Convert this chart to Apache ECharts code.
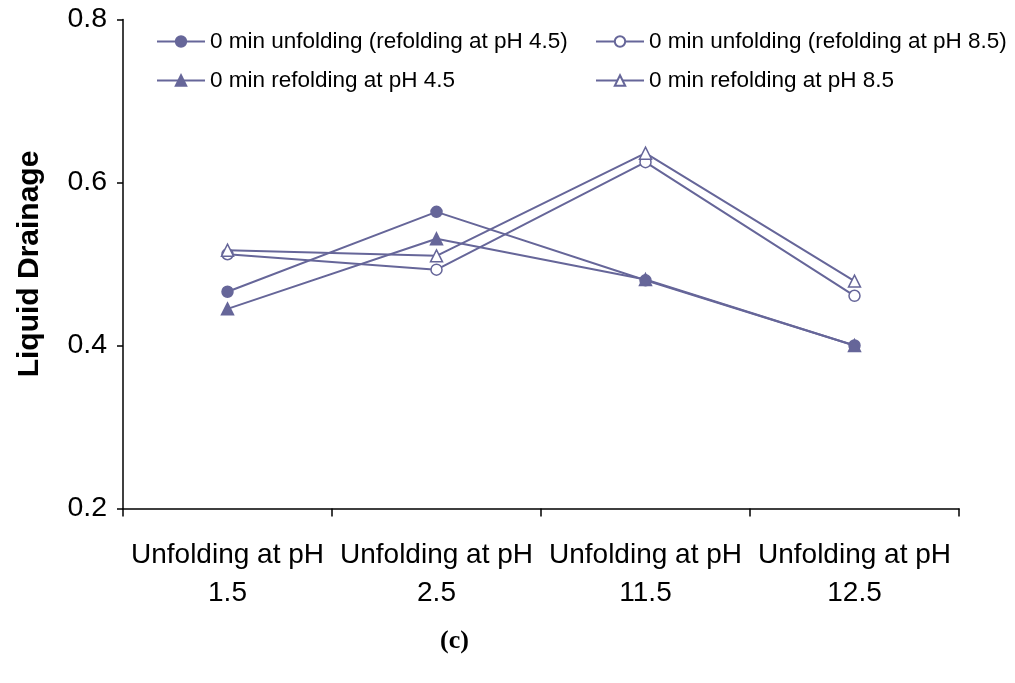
<!DOCTYPE html>
<html>
<head>
<meta charset="utf-8">
<script src="https://cdn.jsdelivr.net/npm/echarts@6/dist/echarts.min.js"></script>
<style>html,body{margin:0;padding:0;background:#fff;}#c{width:1015px;height:683px;}</style>
</head>
<body>
<div id="c"></div>
<script>
const categories = ['Unfolding at pH\n1.5', 'Unfolding at pH\n2.5', 'Unfolding at pH\n11.5', 'Unfolding at pH\n12.5'];
const seriesNames = [
  '0 min unfolding (refolding at pH 4.5)',
  '0 min unfolding (refolding at pH 8.5)',
  '0 min refolding at pH 4.5',
  '0 min refolding at pH 8.5'
];
const unfold45 = [0.466, 0.564, 0.480, 0.400];
const unfold85 = [0.512, 0.493, 0.625, 0.461];
const refold45 = [0.445, 0.531, 0.481, 0.400];
const refold85 = [0.517, 0.510, 0.636, 0.479];
const yTicks = [0.2, 0.4, 0.6, 0.8];

const COLOR = '#666699';
const chart = echarts.init(document.getElementById('c'), null, {renderer: 'canvas'});

function mk(name, data, symbol, filled) {
  return {
    name: name, type: 'line', data: data,
    symbol: symbol, symbolSize: symbol === 'triangle' ? 12 : 11,
    showSymbol: true,
    lineStyle: {color: COLOR, width: 2},
    itemStyle: {color: filled ? COLOR : '#ffffff', borderColor: COLOR, borderWidth: 1.5},
    emphasis: {disabled: true},
    animation: false,
    z: 2
  };
}

function legend(name, left, top) {
  return {
    data: [name], left: left, top: top, orient: 'horizontal',
    itemWidth: 48, itemHeight: 13, itemGap: 0, padding: 0,
    textStyle: {fontFamily: 'Liberation Sans', fontSize: 22.5, color: '#000'},
    selectedMode: false
  };
}

chart.setOption({
  animation: false,
  backgroundColor: '#ffffff',
  grid: {left: 123, right: 56, top: 19.5, bottom: 174.5, containLabel: false, outerBoundsMode: 'none'},
  legend: [
    legend(seriesNames[0], 156, 30),
    legend(seriesNames[1], 595, 30),
    legend(seriesNames[2], 156, 69),
    legend(seriesNames[3], 595, 69)
  ],
  xAxis: {
    type: 'category', data: categories, boundaryGap: true,
    axisLine: {lineStyle: {color: '#000', width: 1.5}},
    axisTick: {show: true, length: 8, lineStyle: {color: '#000', width: 1.5}},
    axisLabel: {color: '#000', fontFamily: 'Liberation Sans', fontSize: 28, lineHeight: 38, margin: 28, interval: 0},
    splitLine: {show: false}
  },
  yAxis: {
    type: 'value', min: yTicks[0], max: yTicks[yTicks.length - 1], interval: 0.2,
    name: 'Liquid Drainage', nameLocation: 'middle', nameGap: 78,
    nameTextStyle: {color: '#000', fontFamily: 'Liberation Sans', fontWeight: 'bold', fontSize: 30},
    axisLine: {show: true, lineStyle: {color: '#000', width: 1.5}},
    axisTick: {show: true, length: 6, lineStyle: {color: '#000', width: 1.5}},
    axisLabel: {color: '#000', fontFamily: 'Liberation Sans', fontSize: 28.5, margin: 16,
      formatter: function (v) { return v.toFixed(1); }},
    splitLine: {show: false}
  },
  graphic: [{
    type: 'text', left: 440, top: 628,
    style: {text: '(c)', font: 'bold 26px "Liberation Serif"', fill: '#000'}
  }],
  series: [
    mk(seriesNames[0], unfold45, 'circle', true),
    mk(seriesNames[1], unfold85, 'circle', false),
    mk(seriesNames[2], refold45, 'triangle', true),
    mk(seriesNames[3], refold85, 'triangle', false)
  ]
});
</script>
</body>
</html>
